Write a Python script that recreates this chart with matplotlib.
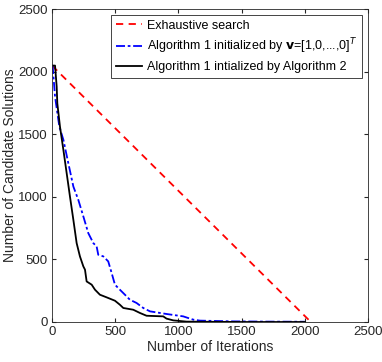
import matplotlib.pyplot as plt

# datos
exh_x = [0, 2048]
exh_y = [2048, 0]

alg1_x = [0, 5, 24, 58, 90, 129, 169, 208, 248, 287, 327, 353, 366, 406, 445, 472, 498,
          537, 577, 616, 669, 722, 775, 906, 1038, 1077, 1117, 1170, 1433, 1700, 2000]
alg1_y = [2048, 2048, 1800, 1561, 1455, 1269, 1082, 976, 843, 710, 630, 604, 537, 524, 484,
          391, 298, 258, 218, 178, 152, 112, 85, 64, 45, 32, 19, 11, 5, 3, 2]

alg2_x = [0, 24, 37, 42, 63, 90, 116, 142, 169, 195, 221, 248, 261, 274, 314, 340, 379,
          432, 498, 537, 564, 643, 696, 748, 880, 906, 959, 1064, 1500, 2000]
alg2_y = [2048, 2048, 1880, 1747, 1561, 1375, 1189, 1003, 816, 630, 524, 444, 418, 324,
          298, 258, 218, 197, 170, 138, 112, 98, 72, 50, 45, 27, 13, 3, 0, 0]

plt.rcParams['font.family'] = ['Liberation Sans', 'DejaVu Sans']

fig = plt.figure(figsize=(3.82, 3.62), dpi=100)
ax = fig.add_axes([52 / 382, 40 / 362, 316 / 382, 313 / 362])

ax.plot(exh_x, exh_y, color="red", linestyle=(0, (4, 3)), linewidth=1.3, label="Exhaustive search")
ax.plot(alg1_x, alg1_y, color="blue", linestyle=(0, (5, 1.5, 1.5, 1.5)), linewidth=1.3,
        label=r"Algorithm 1 initialized by $\mathbf{v}$=[1,0,...,0]$^T$")
ax.plot(alg2_x, alg2_y, color="black", linewidth=1.3, label="Algorithm 1 intialized by Algorithm 2")

ax.set_xlim(0, 2500)
ax.set_ylim(0, 2500)
ax.set_xticks([0, 500, 1000, 1500, 2000, 2500])
ax.set_yticks([0, 500, 1000, 1500, 2000, 2500])
ax.tick_params(direction="in", top=True, right=True, labelsize=9.5, colors="#262626", length=3, pad=3)
for s in ax.spines.values():
    s.set_color("#262626")
    s.set_linewidth(0.6)

ax.set_xlabel("Number of Iterations", fontsize=10, color="#262626", labelpad=1)
ax.set_ylabel("Number of Candidate Solutions", fontsize=10, color="#262626", labelpad=1)

leg = ax.legend(loc="upper right", fontsize=9, fancybox=False, framealpha=1,
                edgecolor="#262626", handlelength=2.1, handletextpad=0.4,
                borderaxespad=0.5, labelspacing=0.4, borderpad=0.35)
leg.get_frame().set_linewidth(0.6)

plt.savefig("out.png", dpi=100)
plt.close()
